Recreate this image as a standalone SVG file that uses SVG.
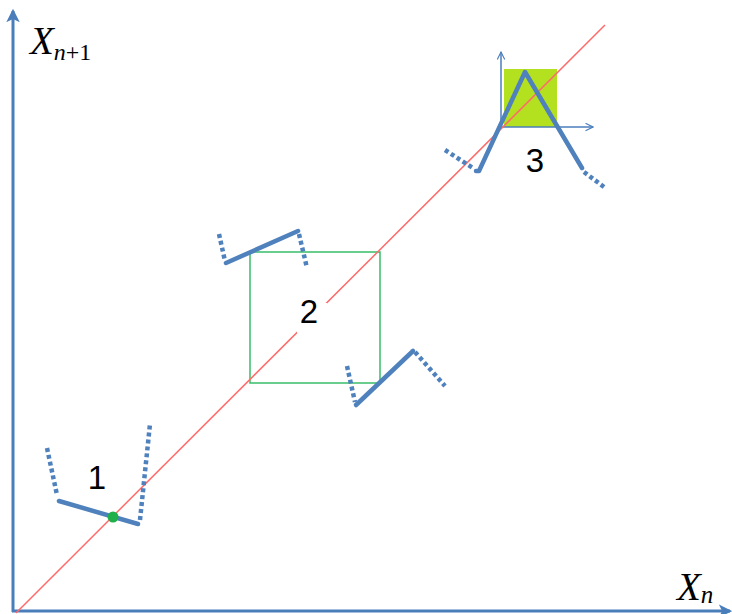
<svg xmlns="http://www.w3.org/2000/svg" width="732" height="614" viewBox="0 0 732 614">
  <style>
    .axis { stroke: #4a7ebb; stroke-width: 3; fill: none; }
    .thin { stroke: #4a7ebb; stroke-width: 1.5; fill: none; }
    .map { stroke: #4f81bd; stroke-width: 4.5; fill: none; stroke-linecap: round; stroke-linejoin: round; }
    .dots { stroke: #4f81bd; stroke-width: 4.5; fill: none; stroke-dasharray: 4 3; }
    .diag { stroke: #ff6b6b; stroke-width: 1.5; fill: none; }
    .num { font-family: "Liberation Sans", Arial, sans-serif; font-size: 33px; fill: #000; text-anchor: middle; }
    .var { font-family: "Liberation Serif", "Times New Roman", serif; font-style: italic; fill: #000; }
  </style>
  <defs>
    <marker id="bigArrow" viewBox="0 0 12 12" refX="10" refY="6" markerWidth="4.5" markerHeight="4.5" orient="auto" markerUnits="strokeWidth">
      <path d="M0,0 L12,6 L0,12 L3,6 Z" fill="#4a7ebb"/>
    </marker>
    <marker id="openArrow" viewBox="0 0 12 12" refX="11" refY="6" markerWidth="6" markerHeight="6" orient="auto" markerUnits="strokeWidth">
      <path d="M1,1 L11,6 L1,11" fill="none" stroke="#4a7ebb" stroke-width="1.5"/>
    </marker>
  </defs>
  <rect width="732" height="614" fill="#ffffff"/>

  <g id="connectors">
    <line class="axis" x1="13" y1="612" x2="13" y2="11" marker-end="url(#bigArrow)"/>
    <line class="axis" x1="12" y1="611" x2="730" y2="611" marker-end="url(#bigArrow)"/>
  </g>

  <g id="region3">
    <rect x="504" y="69" width="53" height="58" fill="#b3e01f"/>
    <line class="thin" x1="501" y1="127" x2="501" y2="52" marker-end="url(#openArrow)"/>
    <line class="thin" x1="501" y1="127" x2="593" y2="127" marker-end="url(#openArrow)"/>
  </g>

  <g id="region2-box">
    <rect x="250" y="252" width="130" height="131" fill="none" stroke="#38bd68" stroke-width="1.5"/>
  </g>

  <g id="diagonal">
    <line class="diag" x1="16" y1="613" x2="605" y2="25"/>
  </g>

  <g id="region1">
    <line class="dots" x1="47" y1="448" x2="57" y2="495"/>
    <polyline class="map" points="59,501 138,524"/>
    <line class="dots" x1="140" y1="520" x2="150" y2="424"/>
    <circle cx="113" cy="517" r="5.5" fill="#1fb04b"/>
    <text class="num" x="97" y="489">1</text>
  </g>

  <g id="region2">
    <line class="dots" x1="219" y1="234" x2="225" y2="261"/>
    <polyline class="map" points="226,263 298,231"/>
    <line class="dots" x1="299" y1="234" x2="307" y2="268"/>
    <line class="dots" x1="347" y1="366" x2="355" y2="402"/>
    <polyline class="map" points="356,405 413,351"/>
    <line class="dots" x1="415" y1="352" x2="445" y2="386"/>
    <rect x="297" y="303" width="30" height="30" fill="#ffffff"/>
    <text class="num" x="309" y="323">2</text>
  </g>

  <g id="region3-map">
    <line class="dots" x1="445" y1="150" x2="473" y2="168"/>
    <polyline class="map" points="476,171 479,171 525,72 582,168"/>
    <line class="dots" x1="584" y1="172" x2="604" y2="187"/>
    <text class="num" x="535" y="172">3</text>
  </g>

  <g id="labels">
    <text class="var" x="30" y="54" font-size="39">X<tspan font-size="24" dy="6">n</tspan><tspan font-style="normal" font-size="24">+1</tspan></text>
    <text class="var" x="677" y="600" font-size="39">X<tspan font-size="25" dy="3">n</tspan></text>
  </g>
</svg>
